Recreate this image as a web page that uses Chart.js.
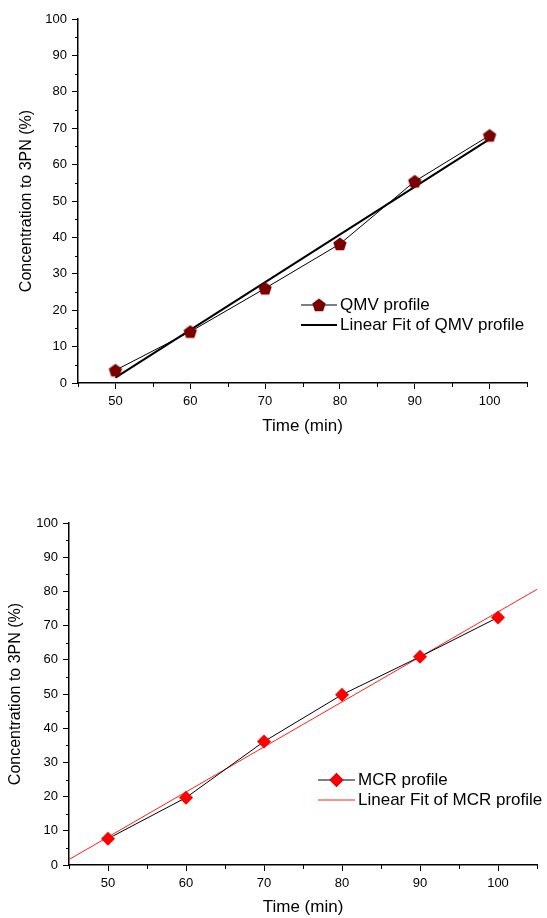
<!DOCTYPE html>
<html>
<head>
<meta charset="utf-8">
<script src="https://cdn.jsdelivr.net/npm/chart.js@4.4.1/dist/chart.umd.min.js"></script>
<style>
  html, body { margin: 0; padding: 0; background: #fff; }
  #page { position: relative; width: 547px; height: 918px; }
  canvas { position: absolute; left: 0; }
  #qmvChart { top: 0; }
  #mcrChart { top: 460px; }
</style>
</head>
<body>
<div id="page">
  <canvas id="qmvChart" width="547" height="440"></canvas>
  <canvas id="mcrChart" width="547" height="458"></canvas>
</div>
<script>
// sampling times (min) and conversion to 3PN (%)
const timeMin = [50, 60, 70, 80, 90, 100];
const qmvProfile = [3.5, 14.1, 26.0, 38.2, 55.4, 68.0];
const mcrProfile = [7.7, 19.7, 36.1, 49.8, 60.9, 72.4];

// linear fit end points
const qmvFitTime = [50, 100];
const qmvFit = [1.5, 67.0];
const mcrFitTime = [45, 105];
const mcrFit = [1.6, 80.6];

const xRange = [45, 105];
const yRange = [0, 100];

Chart.defaults.font.family = "Arial, 'Liberation Sans', sans-serif";
Chart.defaults.color = '#000';

const toPoints = (xs, ys) => xs.map((x, i) => ({x: x, y: ys[i]}));

// pentagon marker (no built-in pointStyle for it)
function pentagon(r, color) {
  const c = document.createElement('canvas');
  const size = Math.ceil(r * 2) + 2;
  c.width = size; c.height = size;
  const g = c.getContext('2d');
  g.beginPath();
  for (let i = 0; i < 5; i++) {
    const a = -Math.PI / 2 + i * 2 * Math.PI / 5;
    const px = size / 2 + r * Math.cos(a), py = size / 2 + r * Math.sin(a) + 0.6;
    i ? g.lineTo(px, py) : g.moveTo(px, py);
  }
  g.closePath();
  g.fillStyle = color;
  g.fill();
  return c;
}
const pentMarker = pentagon(7, '#7a0000');

// short minor ticks between the labelled ones
const minorTicks = {
  id: 'minorTicks',
  afterDraw(chart) {
    const {ctx, chartArea: a, scales} = chart;
    ctx.save();
    ctx.strokeStyle = '#000';
    ctx.lineWidth = 1;
    ctx.beginPath();
    scales.x.ticks.forEach(t => {
      if (t.value % 10 === 0) return;
      const px = Math.round(scales.x.getPixelForValue(t.value)) + 0.5;
      ctx.moveTo(px, a.bottom); ctx.lineTo(px, a.bottom + 4);
    });
    scales.y.ticks.forEach(t => {
      if (t.value % 10 === 0) return;
      const py = Math.round(scales.y.getPixelForValue(t.value)) + 0.5;
      ctx.moveTo(a.left, py); ctx.lineTo(a.left - 3, py);
    });
    ctx.stroke();
    ctx.restore();
  }
};

// legend drawn inside the plot, Origin style
const insetLegend = {
  id: 'insetLegend',
  afterDraw(chart, args, opts) {
    const ctx = chart.ctx;
    ctx.save();
    ctx.font = '17px Arial, "Liberation Sans", sans-serif';
    ctx.textBaseline = 'middle';
    ctx.fillStyle = '#000';
    opts.items.forEach((it, i) => {
      const ds = chart.data.datasets[it.dataset];
      const y = opts.y + i * opts.rowGap;
      ctx.beginPath();
      ctx.strokeStyle = ds.borderColor;
      ctx.lineWidth = ds.borderWidth;
      ctx.moveTo(opts.x, y);
      ctx.lineTo(opts.x + opts.lineLen, y);
      ctx.stroke();
      if (ds.pointRadius > 0) {
        Chart.helpers.drawPoint(ctx, {
          pointStyle: ds.pointStyle, radius: ds.pointRadius, rotation: 0, borderWidth: 0
        }, opts.x + opts.lineLen / 2, y);
        ctx.fillStyle = ds.pointBackgroundColor;
        if (typeof ds.pointStyle === 'string') ctx.fill();
        ctx.fillStyle = '#000';
      }
      ctx.fillText(ds.label, opts.x + opts.lineLen + 3, y);
    });
    ctx.restore();
  }
};

function axes(yWidth, xHeight, yTitlePad, xTitlePad) {
  const grid = {
    drawOnChartArea: false,
    tickLength: 6,
    tickColor: c => (c.tick && c.tick.value % 10 === 0) ? '#000' : 'rgba(0,0,0,0)',
    tickWidth: 1
  };
  const label = v => (v % 10 === 0 ? String(v) : '');
  return {
    x: {
      type: 'linear', min: xRange[0], max: xRange[1],
      grid: grid,
      border: {color: '#000', width: 1.5},
      ticks: {stepSize: 5, autoSkip: false, maxRotation: 0, padding: 5, font: {size: 13}, callback: label},
      title: {display: true, text: 'Time (min)', font: {size: 17}, padding: {top: 0, bottom: xTitlePad}},
      afterFit: s => { s.height = xHeight; }
    },
    y: {
      type: 'linear', min: yRange[0], max: yRange[1],
      grid: grid,
      border: {color: '#000', width: 1.5},
      ticks: {stepSize: 5, autoSkip: false, padding: 5, font: {size: 13}, callback: label},
      title: {display: true, text: 'Concentration to 3PN (%)', font: {size: 16}, padding: {top: yTitlePad, bottom: 0}},
      afterFit: s => { s.width = yWidth; }
    }
  };
}

new Chart(document.getElementById('qmvChart'), {
  type: 'scatter',
  data: {
    datasets: [{
      label: 'QMV profile',
      data: toPoints(timeMin, qmvProfile),
      showLine: true,
      borderColor: '#000',
      borderWidth: 1,
      pointStyle: pentMarker,
      pointRadius: 7,
      pointBackgroundColor: '#7a0000',
      order: 0
    }, {
      label: 'Linear Fit of QMV profile',
      data: toPoints(qmvFitTime, qmvFit),
      showLine: true,
      borderColor: '#000',
      borderWidth: 2,
      pointRadius: 0,
      order: 1
    }]
  },
  options: {
    responsive: false,
    animation: false,
    layout: {padding: {left: 0, top: 19, right: 20, bottom: 0}},
    scales: axes(78, 57, 17, 3),
    plugins: {
      legend: {display: false},
      tooltip: {enabled: false},
      insetLegend: {
        x: 301, y: 305, rowGap: 20, lineLen: 36,
        items: [{dataset: 0}, {dataset: 1}]
      }
    }
  },
  plugins: [minorTicks, insetLegend]
});

new Chart(document.getElementById('mcrChart'), {
  type: 'scatter',
  data: {
    datasets: [{
      label: 'MCR profile',
      data: toPoints(timeMin, mcrProfile),
      showLine: true,
      borderColor: '#000',
      borderWidth: 1,
      pointStyle: 'rectRot',
      pointRadius: 7,
      pointBackgroundColor: '#ff0000',
      pointBorderColor: '#ff0000',
      pointBorderWidth: 0,
      order: 0
    }, {
      label: 'Linear Fit of MCR profile',
      data: toPoints(mcrFitTime, mcrFit),
      showLine: true,
      borderColor: '#ff2020',
      borderWidth: 1,
      pointRadius: 0,
      order: 1
    }]
  },
  options: {
    responsive: false,
    animation: false,
    layout: {padding: {left: 0, top: 63, right: 10, bottom: 0}},
    scales: axes(69, 53, 6, 0),
    plugins: {
      legend: {display: false},
      tooltip: {enabled: false},
      insetLegend: {
        x: 318, y: 320, rowGap: 20, lineLen: 37,
        items: [{dataset: 0}, {dataset: 1}]
      }
    }
  },
  plugins: [minorTicks, insetLegend]
});
</script>
</body>
</html>
